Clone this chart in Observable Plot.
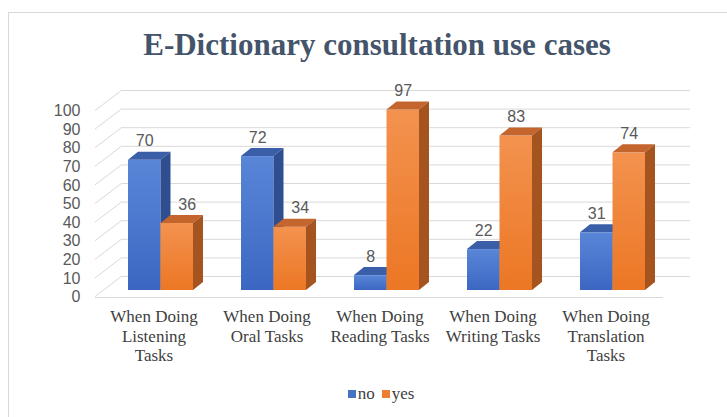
<!DOCTYPE html>
<html>
<head>
<meta charset="utf-8">
<script src="https://cdn.jsdelivr.net/npm/d3@7"></script>
<script src="https://cdn.jsdelivr.net/npm/@observablehq/plot@0.6"></script>
<style>
  html, body { margin: 0; padding: 0; background: #fff; }
  #wrap { position: relative; width: 727px; height: 417px; overflow: hidden; }
  #frame { position: absolute; left: 8px; top: 12px; width: 800px; height: 500px; border: 1px solid #d9d9d9; box-sizing: border-box; }
  #title { position: absolute; left: 0; top: 27px; width: 754px; text-align: center;
           font-family: "Liberation Serif", serif; font-weight: bold; font-size: 31px; color: #44546A; line-height: 36px; }
  #chart { position: absolute; left: 0; top: 0; }
  #legend { position: absolute; left: 0; top: 384px; width: 762px; text-align: center;
            font-family: "Liberation Serif", serif; font-size: 17px; color: #404040; }
  .sw { display: inline-block; width: 8px; height: 8px; margin-right: 2px; vertical-align: 1px; }
  .sw2 { margin-left: 7px; }
</style>
</head>
<body>
<div id="wrap">
  <div id="frame"></div>
  <div id="chart"></div>
  <div id="title">E-Dictionary consultation use cases</div>
  <div id="legend"><span class="sw" style="background:#4472C4"></span>no<span class="sw sw2" style="background:#ED7D31"></span>yes</div>
</div>
<script>
const categories = [
  "When Doing\nListening\nTasks",
  "When Doing\nOral Tasks",
  "When Doing\nReading Tasks",
  "When Doing\nWriting Tasks",
  "When Doing\nTranslation\nTasks"
];
const noValues = [70, 72, 8, 22, 31];
const yesValues = [36, 34, 97, 83, 74];
const yTicks = [0, 10, 20, 30, 40, 50, 60, 70, 80, 90, 100];

const noRows = categories.map((c, i) => ({category: c, series: "no", value: noValues[i]}));
const yesRows = categories.map((c, i) => ({category: c, series: "yes", value: yesValues[i], lower: yesValues[i] < noValues[i]}));

const DEPTH_X = 10, DEPTH_Y = -8;
const insets = {no: {l: 24, r: 56.5}, yes: {l: 56.5, r: 24}};
const SVGNS = "http://www.w3.org/2000/svg";

function el(name, attrs) {
  const e = document.createElementNS(SVGNS, name);
  for (const k in attrs) e.setAttribute(k, attrs[k]);
  return e;
}

function defsMark() {
  const defs = el("defs", {});
  const mk = (id, top, bottom) => {
    const g = el("linearGradient", {id, x1: 0, y1: 0, x2: 0, y2: 1});
    g.appendChild(el("stop", {offset: "0%", "stop-color": top}));
    g.appendChild(el("stop", {offset: "100%", "stop-color": bottom}));
    defs.appendChild(g);
  };
  mk("gBlue", "#5a86d8", "#3b67c2");
  mk("gOrange", "#f3924f", "#ec7724");
  return defs;
}

function gridDiagonals(index, scales, values, dims) {
  const g = el("g", {stroke: "#d9d9d9", "stroke-width": 1, fill: "none"});
  const y = scales.y;
  for (const t of yTicks) {
    g.appendChild(el("line", {
      x1: dims.marginLeft, y1: y(t) + 6.5,
      x2: dims.marginLeft + 27, y2: y(t) - 14
    }));
  }
  return g;
}

function faces(rows, key, topColor, sideColor) {
  return (index, scales) => {
    const {x, y} = scales;
    const bw = x.bandwidth();
    const g = el("g", {});
    const yb = y(0);
    for (const d of rows) {
      const x0 = x(d.category) + insets[key].l;
      const x1 = x(d.category) + bw - insets[key].r;
      const yt = y(d.value);
      g.appendChild(el("polygon", {
        points: `${x0},${yt} ${x1},${yt} ${x1 + DEPTH_X},${yt + DEPTH_Y} ${x0 + DEPTH_X},${yt + DEPTH_Y}`,
        fill: topColor
      }));
      g.appendChild(el("polygon", {
        points: `${x1},${yt} ${x1 + DEPTH_X},${yt + DEPTH_Y} ${x1 + DEPTH_X},${yb + DEPTH_Y} ${x1},${yb}`,
        fill: sideColor
      }));
    }
    return g;
  };
}

const chart = Plot.plot({
  width: 727,
  height: 417,
  marginTop: 104,
  marginBottom: 127,
  marginLeft: 95,
  marginRight: 64,
  style: {fontFamily: "Liberation Sans, Arial, sans-serif", background: "transparent", overflow: "visible"},
  x: {domain: categories, range: [103.5, 668.5], padding: 0},
  y: {domain: [0, 100], label: null},
  marks: [
    defsMark,
    Plot.ruleY(yTicks, {dx: 27, dy: -14, stroke: "#d9d9d9", strokeWidth: 1}),
    gridDiagonals,
    Plot.ruleY([0], {dy: 7, stroke: "#d9d9d9", strokeWidth: 1}),
    Plot.barY(noRows, {x: "category", y: "value", fill: "url(#gBlue)", insetLeft: insets.no.l, insetRight: insets.no.r}),
    faces(noRows, "no", "#3b5ea9", "#2e4e8f"),
    Plot.barY(yesRows, {x: "category", y: "value", fill: "url(#gOrange)", insetLeft: insets.yes.l, insetRight: insets.yes.r}),
    faces(yesRows, "yes", "#c3652c", "#a5531f"),
    Plot.text(noRows, {x: "category", y: "value", text: "value", dx: -16.25, dy: -19, fontSize: 16, fill: "#595959"}),
    Plot.text(yesRows.filter(d => !d.lower), {x: "category", y: "value", text: "value", dx: 16.25, dy: -19, fontSize: 16, fill: "#595959"}),
    Plot.text(yesRows.filter(d => d.lower), {x: "category", y: "value", text: "value", dx: 16.25 + DEPTH_X, dy: -19, fontSize: 16, fill: "#595959"}),
    Plot.axisY(yTicks, {tickSize: 0, tickPadding: 15, dy: 6.5, fontSize: 16, color: "#595959", label: null}),
    Plot.axisX({tickSize: 0, tickPadding: 18, dx: -7, fontFamily: "Liberation Serif, serif", fontSize: 17, lineHeight: 1.15, color: "#404040", label: null})
  ]
});
document.getElementById("chart").appendChild(chart);
</script>
</body>
</html>
